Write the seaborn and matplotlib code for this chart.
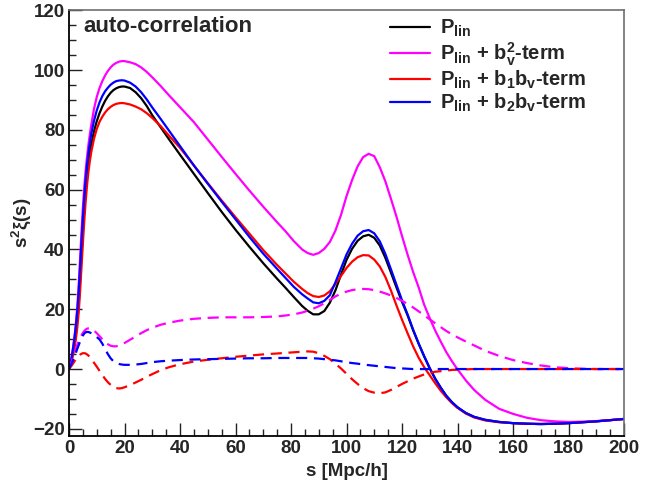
import matplotlib
matplotlib.use("Agg")
import matplotlib.pyplot as plt
import seaborn as sns
from matplotlib.ticker import MultipleLocator

# separation s [Mpc/h]
s = [0, 0.5, 1, 1.5, 2, 2.5, 3, 3.5, 4, 4.5,
     5, 5.5, 6, 6.5, 7, 7.5, 8, 9, 10, 11,
     12, 13, 14, 15, 16, 17, 18, 19, 20, 22,
     24, 26, 28, 30, 33, 36, 40, 45, 50, 55,
     60, 65, 70, 75, 78, 81, 84, 86, 88, 90,
     92, 94, 96, 98, 100, 102, 104, 106, 108, 110,
     112, 114, 116, 118, 120, 122, 124, 126, 128, 130,
     132, 134, 136, 138, 140, 143, 146, 150, 155, 160,
     165, 170, 175, 180, 185, 190, 195, 200]

# solid curves: s^2 xi(s)
p_lin = [0, 1.5, 3.5, 6, 9, 12.5, 16.5, 22, 30, 38,
         46, 53.5, 60, 65, 69, 72.3, 75, 79.5, 82.9, 85.6,
         87.8, 89.7, 91.2, 92.4, 93.3, 93.9, 94.3, 94.5, 94.5, 94.0,
         92.6, 90.6, 88, 84.9, 80.9, 76.9, 71.7, 65.3, 58.9, 52.6,
         46.6, 40.9, 35.4, 30.2, 27.2, 24.1, 21.1, 19.5, 18.3, 18.3,
         19.4, 22.2, 26.3, 31.5, 36.5, 40.2, 42.9, 44.4, 44.9, 43.9,
         41.3, 37.2, 32.3, 27.3, 22.5, 18, 13, 8.5, 4.2, 0.2,
         -3.3, -6.3, -9, -11.1, -12.8, -14.7, -16, -17, -17.7, -18.1,
         -18.3, -18.4, -18.3, -18.1, -17.8, -17.5, -17.1, -16.7]

p_lin_bv2 = [0, 2, 4.5, 7.5, 11, 15.5, 21, 28.5, 37, 46,
             54, 61, 66.5, 71, 75, 78.5, 81.5, 87, 91, 94,
             96.3, 98.2, 99.7, 100.9, 101.8, 102.4, 102.8, 103, 103, 102.6,
             102, 100.9, 99.4, 97.6, 94.7, 91.6, 87.6, 82.6, 76.8, 71,
             65.3, 59.7, 54.3, 49.1, 46.1, 42.8, 40, 38.8, 38.2, 38.8,
             40.2, 42.5, 46.3, 51.5, 57.8, 63.2, 67.8, 70.9, 72, 71.2,
             67.5, 62.8, 57, 51, 44.5, 38.3, 32.5, 27.3, 21.5, 17,
             12.8, 9.1, 5.6, 2.6, -0.1, -3.8, -7, -10.3, -13.3, -15,
             -16.3, -17.1, -17.5, -17.7, -17.6, -17.4, -17.1, -16.7]

p_lin_b1bv = [0, 1.2, 2.8, 4.8, 7.2, 10.2, 14, 19, 26, 34,
              42, 49.5, 56, 61.5, 66, 69.5, 72.5, 77, 80.3, 82.7,
              84.4, 85.8, 86.9, 87.7, 88.3, 88.7, 88.9, 89, 88.9, 88.5,
              87.8, 86.9, 85.6, 84, 81.3, 78.1, 74, 68.1, 62.2, 56.4,
              50.8, 45.3, 39.8, 34.8, 32, 29.2, 26.8, 25.4, 24.4, 24.1,
              24.6, 26, 28.5, 31.1, 33.8, 35.9, 37.4, 38.1, 38, 36.6,
              34.3, 30.8, 26.3, 21.3, 16.5, 12, 7.6, 3.8, 0.6, -2.1,
              -4.8, -7.3, -9.5, -11.4, -13, -14.9, -16.2, -17.2, -17.8, -18.1,
              -18.3, -18.4, -18.3, -18.1, -17.8, -17.5, -17.1, -16.7]

p_lin_b2bv = [0, 1.8, 4, 7, 10.5, 14.5, 19.5, 26, 34, 42.5,
              50.5, 57.5, 63.5, 68.3, 72.3, 75.6, 78.5, 83, 86.5, 89.2,
              91.3, 92.9, 94.1, 95.1, 95.8, 96.3, 96.5, 96.6, 96.5, 95.8,
              94.5, 92.6, 90.2, 87.5, 83.7, 79.8, 74.6, 68.1, 62, 56,
              50.1, 44.2, 38.6, 33.5, 30.5, 27.5, 25, 23.6, 22.3, 22,
              22.8, 24.7, 29, 33.6, 38.3, 41.9, 44.6, 46.1, 46.5, 45.4,
              42.7, 38.5, 33.4, 28.2, 23, 18.3, 13.2, 8.5, 4.3, 0.3,
              -3.3, -6.3, -9, -11.1, -12.8, -14.7, -16, -17, -17.7, -18.1,
              -18.3, -18.4, -18.3, -18.1, -17.8, -17.5, -17.1, -16.7]

# dashed curves: the individual terms
term_bv2 = [0, 1.3, 2.6, 4, 5.4, 6.8, 8.1, 9.3, 10.4, 11.3,
            12.1, 12.7, 13.2, 13.5, 13.6, 13.6, 13.5, 12.9, 12, 11,
            10, 9.1, 8.3, 7.8, 7.6, 7.6, 7.9, 8.3, 8.7, 9.8,
            10.9, 12, 13, 13.8, 14.8, 15.5, 16.2, 16.8, 17.1, 17.3,
            17.3, 17.3, 17.4, 17.6, 17.9, 18.3, 18.9, 19.5, 20.2, 21,
            22, 23.1, 24.3, 25.2, 25.9, 26.4, 26.7, 26.8, 26.7, 26.4,
            25.9, 25.3, 24.6, 23.8, 22.8, 21.8, 20.6, 19.3, 18, 16.6,
            15.3, 14, 12.7, 11.6, 10.6, 9.2, 7.9, 6.1, 4.4, 3,
            2, 1.2, 0.6, 0.3, 0.1, 0, 0, 0]

term_b1bv = [0, 0.6, 1.2, 1.9, 2.6, 3.2, 3.8, 4.3, 4.8, 5.1,
             5.3, 5.3, 5.2, 4.9, 4.5, 4, 3.4, 2.1, 0.8, -0.6,
             -2, -3.3, -4.4, -5.3, -6, -6.4, -6.5, -6.4, -6.1, -5.4,
             -4.5, -3.6, -2.6, -1.7, -0.4, 0.6, 1.6, 2.5, 3.1, 3.6,
             4.1, 4.5, 4.9, 5.2, 5.4, 5.6, 5.8, 5.9, 5.8, 5.3,
             4.4, 3.3, 1.8, 0.2, -1.6, -3.4, -5, -6.4, -7.4, -7.9,
             -8.1, -7.8, -7, -6, -5, -4.1, -3.2, -2.5, -1.8, -1.3,
             -0.9, -0.7, -0.5, -0.3, -0.2, -0.1, 0, 0, 0, 0,
             0, 0, 0, 0, 0, 0, 0, 0]

term_b2bv = [0, 1, 2, 3.1, 4.3, 5.5, 6.8, 8, 9.2, 10.3,
             11.2, 11.9, 12.3, 12.4, 12.4, 12.2, 12, 11.5, 10.7, 9.9,
             8.5, 6.7, 5, 3.6, 2.6, 2, 1.7, 1.5, 1.4, 1.4,
             1.5, 1.7, 2, 2.3, 2.6, 2.8, 3, 3.2, 3.3, 3.4,
             3.5, 3.6, 3.6, 3.7, 3.7, 3.7, 3.7, 3.7, 3.6, 3.5,
             3.3, 3.1, 2.9, 2.6, 2.3, 2, 1.8, 1.5, 1.3, 1.1,
             0.9, 0.7, 0.5, 0.3, 0.2, 0.1, 0, 0, 0, 0,
             0, 0, 0, 0, 0, 0, 0, 0, 0, 0,
             0, 0, 0, 0, 0, 0, 0, 0]

labels = [r"$P_{lin}$",
          r"$P_{lin}$ + $b_{v}^{2}$-term",
          r"$P_{lin}$ + $b_{1}b_{v}$-term",
          r"$P_{lin}$ + $b_{2}b_{v}$-term"]
colors = ["#000000", "#ff00ff", "#ff0000", "#0000ff"]

sns.set_style("ticks")
plt.rcParams['font.family'] = ['Liberation Sans', 'DejaVu Sans']
plt.rcParams['font.weight'] = 'bold'
plt.rcParams['axes.labelweight'] = 'bold'
plt.rcParams['mathtext.fontset'] = 'custom'
plt.rcParams['mathtext.rm'] = 'Liberation Sans:bold'
plt.rcParams['mathtext.it'] = 'Liberation Sans:bold'
plt.rcParams['mathtext.bf'] = 'Liberation Sans:bold'
plt.rcParams['mathtext.sf'] = 'Liberation Sans:bold'
plt.rcParams['mathtext.default'] = 'bf'

fig = plt.figure(figsize=(6.65, 4.84), dpi=100)
ax = fig.add_axes([69 / 665, 1 - 436 / 484, 555 / 665, 426 / 484])

solid = [p_lin, p_lin_bv2, p_lin_b1bv, p_lin_b2bv]
for vals, col, lab in zip(solid, colors, labels):
    sns.lineplot(x=s, y=vals, ax=ax, color=col, linewidth=1.6, label=lab,
                 estimator=None, errorbar=None, sort=False)

dashed = [term_bv2, term_b1bv, term_b2bv]
for vals, col in zip(dashed, colors[1:]):
    sns.lineplot(x=s, y=vals, ax=ax, color=col, linewidth=1.6,
                 linestyle=(0, (5, 3)), estimator=None, errorbar=None, sort=False)

ax.set_xlim(0, 200)
ax.set_ylim(-22.4, 120.1)
ax.xaxis.set_major_locator(MultipleLocator(20))
ax.xaxis.set_minor_locator(MultipleLocator(5))
ax.yaxis.set_major_locator(MultipleLocator(20))
ax.yaxis.set_minor_locator(MultipleLocator(5))
ax.tick_params(which='both', direction='in', top=False, right=False,
               color='#222222', width=1.0)
ax.tick_params(which='major', length=9.5, labelsize=13.5, pad=3)
ax.tick_params(which='minor', length=5)

for side in ['left', 'bottom']:
    ax.spines[side].set_color('#000000')
    ax.spines[side].set_linewidth(1.3)
for side in ['top', 'right']:
    ax.spines[side].set_color('#6e6e6e')
    ax.spines[side].set_linewidth(1.2)

ax.set_xlabel("s [Mpc/h]", fontsize=13.5, fontweight='bold')
ax.set_ylabel(r"$s^{2}\xi(s)$", fontsize=13.5, fontweight='bold')
ax.xaxis.set_label_coords(0.5, -0.064)
ax.yaxis.set_label_coords(-0.064, 0.5)

ax.text(0.025, 0.949, "auto-correlation", transform=ax.transAxes,
        fontsize=16, fontweight='bold', ha='left', va='baseline')

leg = ax.legend(loc='upper left', bbox_to_anchor=(0.578, 0.981), frameon=False,
                prop={'size': 14.5, 'weight': 'bold'}, handlelength=2.0,
                handletextpad=0.5, labelspacing=0.05, borderaxespad=0, borderpad=0)

fig.savefig("out.png", dpi=100, facecolor='white')
